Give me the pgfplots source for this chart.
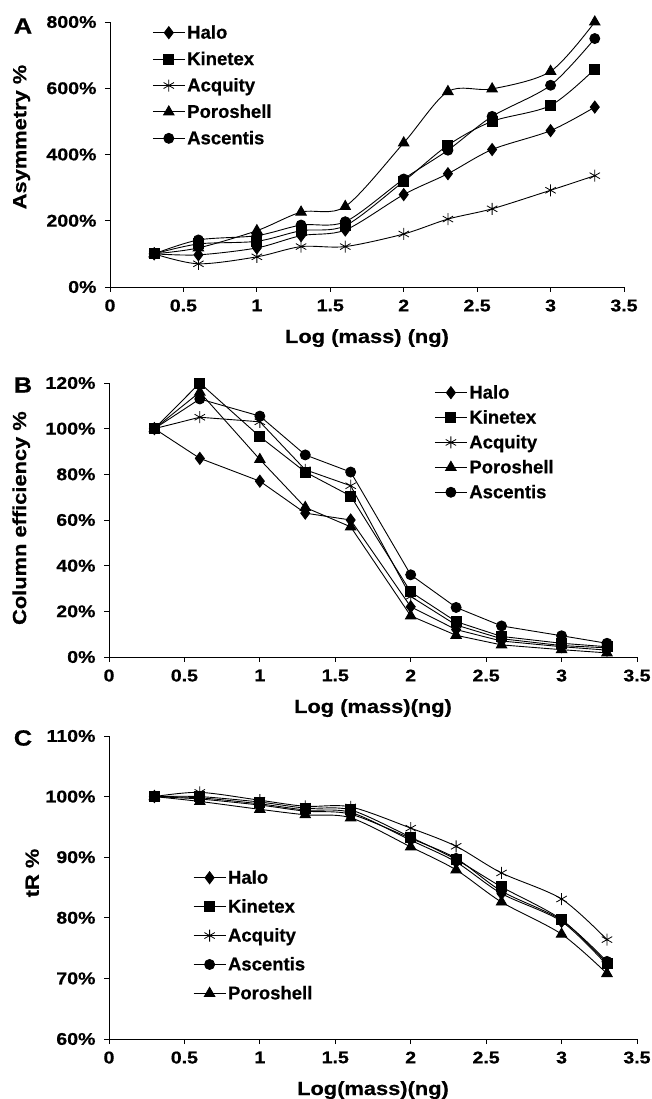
\documentclass[border=0pt]{standalone}
\usepackage{fontspec}
\setmainfont[BoldFeatures={FakeBold=0.6}]{Liberation Sans}
\newfontfamily\wfont[FakeStretch=1.15, BoldFeatures={FakeBold=0.6}]{Liberation Sans}
\usepackage{pgfplots}
\pgfplotsset{compat=1.18}
\begin{document}
\begin{tikzpicture}
\useasboundingbox (0,0) rectangle (651pt,1099pt);
\pgfplotsset{
 myax/.style={
  scale only axis,
  axis lines*=left,
  axis line style={line width=0.8pt,-},
  tick style={black, line width=0.8pt},
  tick align=outside,
  major tick length=5pt,
  xmin=0, xmax=3.5, xtick={0,0.5,1,1.5,2,2.5,3,3.5},
  tick label style={font=\wfont\bfseries\fontsize{17}{18}\selectfont},
  xticklabel style={yshift=-4pt},
  yticklabel style={xshift=-5pt},
  /pgf/number format/assume math mode=true,
  yticklabel={\pgfmathprintnumber{\tick}\%},
  label style={font=\wfont\bfseries\fontsize{19}{22}\selectfont},
  xlabel style={at={(axis description cs:0.5,0)}, anchor=base, yshift=-56pt},
  cycle list={{black}},
  every axis plot/.append style={black, line width=0.9pt, mark options={solid, fill=black}},
  legend style={draw=none, fill=none, font=\bfseries\fontsize{18.5}{20}\selectfont, inner sep=0pt, anchor=north west},
  legend cell align=left,
  legend image code/.code={\draw[mark repeat=2,mark phase=2,##1] plot coordinates {(0pt,0pt) (16pt,0pt) (32pt,0pt)};},
 },
 sdia/.style={mark=diamond*, mark size=6pt},
 ssq/.style={mark=square*, mark size=5pt},
 sast/.style={mark=asterisk, mark size=6pt, mark options={line width=0.8pt}},
 stri/.style={mark=triangle*, mark size=6pt},
 scir/.style={mark=*, mark size=5pt},
}
% Panel A
\begin{axis}[myax, at={(110pt,812pt)}, anchor=south west, width=514pt, height=265pt,
  ymin=0, ymax=800, ytick={0,200,400,600,800},
  xlabel={Log (mass) (ng)}, ylabel={Asymmetry \%},
  ylabel style={at={(axis description cs:-0.163,0.566)}, anchor=base, rotate=0},
  legend style={at={(axis description cs:0.082,0.996)}, row sep=7.5pt}]
\addplot[smooth, sdia] coordinates {(0.301,100)(0.602,97)(1,118)(1.301,155)(1.602,172)(2,279)(2.301,342)(2.602,415)(3,472)(3.301,543)};
\addplot[smooth, ssq] coordinates {(0.301,100)(0.602,130)(1,138)(1.301,170)(1.602,185)(2,319)(2.301,428)(2.602,500)(3,548)(3.301,658)};
\addplot[smooth, sast] coordinates {(0.301,100)(0.602,70)(1,91)(1.301,122)(1.602,122)(2,160)(2.301,205)(2.602,236)(3,292)(3.301,336)};
\addplot[smooth, stri] coordinates {(0.301,100)(0.602,118)(1,170)(1.301,226)(1.602,243)(2,435)(2.301,590)(2.602,598)(3,651)(3.301,800)};
\addplot[smooth, scir] coordinates {(0.301,100)(0.602,142)(1,155)(1.301,187)(1.602,197)(2,326)(2.301,413)(2.602,515)(3,609)(3.301,750)};
\legend{Halo,Kinetex,Acquity,Poroshell,Ascentis}
\end{axis}
% Panel B
\begin{axis}[myax, at={(109pt,442pt)}, anchor=south west, width=528pt, height=274pt,
  ymin=0, ymax=120, ytick={0,20,40,60,80,100,120},
  xlabel={Log (mass)(ng)}, ylabel={Column efficiency \%},
  ylabel style={at={(axis description cs:-0.157,0.507)}, anchor=base},
  legend style={at={(axis description cs:0.616,1.0)}, row sep=6pt}]
\addplot[sdia] coordinates {(0.301,100)(0.602,87)(1,77)(1.301,63)(1.602,60)(2,22)(2.301,12)(2.602,7)(3,4.5)(3.301,3)};
\addplot[ssq] coordinates {(0.301,100)(0.602,120)(1,96.5)(1.301,81)(1.602,70.5)(2,28.5)(2.301,15.5)(2.602,9)(3,6)(3.301,4.5)};
\addplot[sast] coordinates {(0.301,100)(0.602,105)(1,103)(1.301,82)(1.602,75)(2,26.5)(2.301,14)(2.602,8)(3,5)(3.301,4)};
\addplot[stri] coordinates {(0.301,100)(0.602,116)(1,86.5)(1.301,65.5)(1.602,57)(2,18)(2.301,9.5)(2.602,5.3)(3,3.2)(3.301,1.8)};
\addplot[scir] coordinates {(0.301,100)(0.602,113)(1,105.5)(1.301,88.5)(1.602,81)(2,36)(2.301,21.7)(2.602,13.6)(3,9.3)(3.301,6)};
\legend{Halo,Kinetex,Acquity,Poroshell,Ascentis}
\end{axis}
% Panel C
\begin{axis}[myax, at={(109pt,60pt)}, anchor=south west, width=528pt, height=303pt,
  ymin=60, ymax=110, ytick={60,70,80,90,100,110},
  xlabel={Log(mass)(ng)}, ylabel={tR \%},
  ylabel style={at={(axis description cs:-0.133,0.548)}, anchor=base},
  legend style={at={(axis description cs:0.159,0.564)}, row sep=10pt}]
\addplot[smooth, sdia] coordinates {(0.301,100)(0.602,99.8)(1,98.8)(1.301,97.8)(1.602,97.4)(2,92.8)(2.301,89.2)(2.602,84.0)(3,79.4)(3.301,72.2)};
\addplot[smooth, ssq] coordinates {(0.301,100)(0.602,100)(1,99.1)(1.301,98.1)(1.602,97.8)(2,93.3)(2.301,89.6)(2.602,85.1)(3,79.7)(3.301,72.5)};
\addplot[smooth, sast] coordinates {(0.301,100)(0.602,100.7)(1,99.4)(1.301,98.4)(1.602,98.3)(2,94.8)(2.301,91.8)(2.602,87.4)(3,83.1)(3.301,76.4)};
\addplot[smooth, scir] coordinates {(0.301,100)(0.602,99.6)(1,98.6)(1.301,97.6)(1.602,97.1)(2,93.1)(2.301,89.8)(2.602,84.4)(3,79.6)(3.301,72.8)};
\addplot[smooth, stri] coordinates {(0.301,100)(0.602,99.2)(1,97.9)(1.301,97.0)(1.602,96.5)(2,91.7)(2.301,87.9)(2.602,82.6)(3,77.3)(3.301,70.8)};
\legend{Halo,Kinetex,Acquity,Ascentis,Poroshell}
\end{axis}
\node[font=\wfont\bfseries\fontsize{22}{24}\selectfont] at (23pt,1073pt) {A};
\node[font=\wfont\bfseries\fontsize{22}{24}\selectfont] at (23pt,714pt) {B};
\node[font=\wfont\bfseries\fontsize{22}{24}\selectfont] at (23pt,361pt) {C};
\end{tikzpicture}
\end{document}
